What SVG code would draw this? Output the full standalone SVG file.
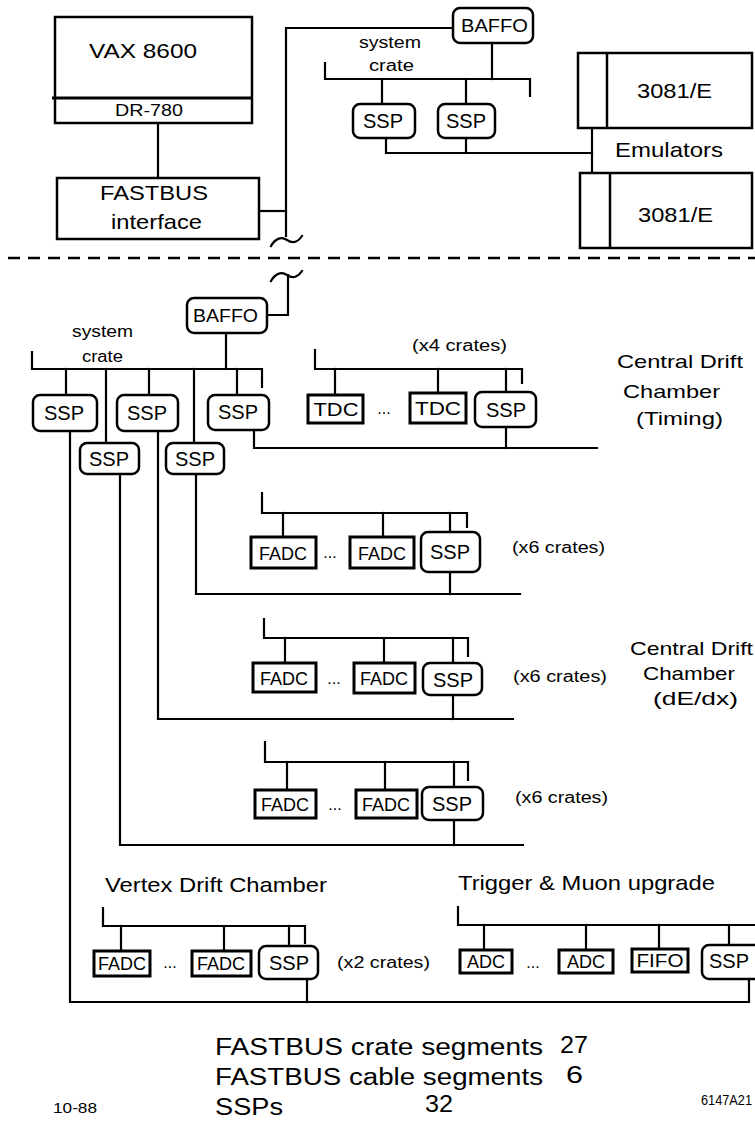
<svg xmlns="http://www.w3.org/2000/svg" width="755" height="1122" viewBox="0 0 755 1122">
<style>
text{font-family:"Liberation Sans",Arial,Helvetica,sans-serif;fill:#000}
.ln{fill:none;stroke:#000;stroke-width:2.2;stroke-linejoin:miter;stroke-linecap:square}
.box{fill:#fff;stroke:#000;stroke-width:2.5}
.rb{fill:#fff;stroke:#000;stroke-width:2.5}
.mod{fill:#fff;stroke:#000;stroke-width:3}
.big{font-size:21px}
.mid{font-size:19px}
.lbl{font-size:18px;text-anchor:middle}
.ssp{font-size:20px;text-anchor:middle}
.sm{font-size:16px}
.dots{font-size:16px;text-anchor:middle}
</style>
<rect x="0" y="0" width="755" height="1122" fill="#fff"/>

<g id="separator">
<line x1="8" y1="258" x2="755" y2="258" stroke="#000" stroke-width="2.5" stroke-dasharray="12 8"/>
</g>

<g id="connectors">
<!-- top section -->
<line class="ln" x1="158" y1="123" x2="158" y2="178"/>
<path class="ln" d="M259,211 H286"/>
<path class="ln" d="M286,236 V28 H453"/>
<path class="ln" d="M271,246 C275,239 281,236 287,240 C293,244 298,242 302,236" stroke-width="3"/>
<line class="ln" x1="492" y1="43" x2="492" y2="79"/>
<path class="ln" d="M325,63 V79 H530 V96"/>
<line class="ln" x1="382" y1="79" x2="382" y2="104"/>
<line class="ln" x1="466" y1="79" x2="466" y2="104"/>
<path class="ln" d="M386,138 V153 H592"/>
<line class="ln" x1="466" y1="138" x2="466" y2="153"/>
<line class="ln" x1="592" y1="128" x2="592" y2="173"/>
<!-- lower section -->
<path class="ln" d="M271,281 C275,274 281,271 287,275 C293,279 298,277 302,271" stroke-width="3"/>
<path class="ln" d="M288,275 V315 H267"/>
<line class="ln" x1="226" y1="333" x2="226" y2="369"/>
<path class="ln" d="M32,352 V369 H262 V387"/>
<line class="ln" x1="66" y1="369" x2="66" y2="395"/>
<line class="ln" x1="106" y1="369" x2="106" y2="443"/>
<line class="ln" x1="149" y1="369" x2="149" y2="395"/>
<line class="ln" x1="194" y1="369" x2="194" y2="443"/>
<line class="ln" x1="237" y1="369" x2="237" y2="395"/>
<path class="ln" d="M70,431 V1002 H749 V979"/>
<path class="ln" d="M120,474 V845 H523"/>
<path class="ln" d="M158,431 V719 H513"/>
<path class="ln" d="M196,474 V594 H520"/>
<path class="ln" d="M254,430 V448 H597"/>
<!-- timing crate -->
<path class="ln" d="M315,350 V369 H522 V383"/>
<line class="ln" x1="335" y1="369" x2="335" y2="395"/>
<line class="ln" x1="438" y1="369" x2="438" y2="393"/>
<line class="ln" x1="506" y1="369" x2="506" y2="392"/>
<line class="ln" x1="506" y1="427" x2="506" y2="448"/>
<!-- FADC crate 1 -->
<path class="ln" d="M262,493 V513 H467 V527"/>
<line class="ln" x1="283" y1="513" x2="283" y2="537"/>
<line class="ln" x1="383" y1="513" x2="383" y2="537"/>
<line class="ln" x1="450" y1="513" x2="450" y2="532"/>
<line class="ln" x1="450" y1="572" x2="450" y2="594"/>
<!-- FADC crate 2 -->
<path class="ln" d="M264,619 V638 H468 V656"/>
<line class="ln" x1="285" y1="638" x2="285" y2="663"/>
<line class="ln" x1="384" y1="638" x2="384" y2="663"/>
<line class="ln" x1="453" y1="638" x2="453" y2="663"/>
<line class="ln" x1="453" y1="695" x2="453" y2="719"/>
<!-- FADC crate 3 -->
<path class="ln" d="M265,742 V762 H468 V780"/>
<line class="ln" x1="287" y1="762" x2="287" y2="790"/>
<line class="ln" x1="385" y1="762" x2="385" y2="790"/>
<line class="ln" x1="454" y1="762" x2="454" y2="787"/>
<line class="ln" x1="454" y1="820" x2="454" y2="845"/>
<!-- vertex crate -->
<path class="ln" d="M103,908 V926 H305 V943"/>
<line class="ln" x1="121" y1="926" x2="121" y2="951"/>
<line class="ln" x1="224" y1="926" x2="224" y2="951"/>
<line class="ln" x1="289" y1="926" x2="289" y2="946"/>
<line class="ln" x1="307" y1="979" x2="307" y2="1002"/>
<!-- trigger crate -->
<path class="ln" d="M458,907 V925 H757"/>
<line class="ln" x1="484" y1="925" x2="484" y2="950"/>
<line class="ln" x1="586" y1="925" x2="586" y2="950"/>
<line class="ln" x1="659" y1="925" x2="659" y2="949"/>
<line class="ln" x1="729" y1="925" x2="729" y2="945"/>
</g>

<!-- top section nodes -->
<g id="vax">
<rect class="box" x="55" y="17" width="197" height="106"/>
<line x1="52" y1="98" x2="252" y2="98" stroke="#000" stroke-width="3"/>
<text class="big" x="89" y="58" textLength="108" lengthAdjust="spacingAndGlyphs">VAX 8600</text>
<text x="115" y="116" font-size="17" textLength="68" lengthAdjust="spacingAndGlyphs">DR-780</text>
</g>
<g id="fastbus-interface">
<rect class="box" x="57" y="178" width="202" height="61"/>
<text class="big" x="100" y="200" textLength="108" lengthAdjust="spacingAndGlyphs">FASTBUS</text>
<text class="big" x="111" y="229" textLength="91" lengthAdjust="spacingAndGlyphs">interface</text>
</g>
<g id="baffo-top">
<rect class="rb" x="453" y="8" width="80" height="35" rx="7"/>
<text x="461" y="32" font-size="18" textLength="67" lengthAdjust="spacingAndGlyphs">BAFFO</text>
</g>
<g id="system-crate-top">
<text class="sm" x="359" y="48" textLength="62" lengthAdjust="spacingAndGlyphs">system</text>
<text class="sm" x="369" y="71" textLength="45" lengthAdjust="spacingAndGlyphs">crate</text>
</g>
<g id="ssp-top-1">
<rect class="rb" x="353" y="104" width="62" height="34" rx="7"/>
<text class="ssp" x="383" y="128">SSP</text>
</g>
<g id="ssp-top-2">
<rect class="rb" x="438" y="104" width="57" height="34" rx="7"/>
<text class="ssp" x="466" y="128">SSP</text>
</g>
<g id="emulator-1">
<rect class="box" x="578" y="53" width="174" height="75"/>
<line x1="607" y1="53" x2="607" y2="128" stroke="#000" stroke-width="2.5"/>
<text class="big" x="637" y="98" textLength="75" lengthAdjust="spacingAndGlyphs">3081/E</text>
</g>
<g id="emulators-label">
<text class="big" x="615" y="157" textLength="108" lengthAdjust="spacingAndGlyphs">Emulators</text>
</g>
<g id="emulator-2">
<rect class="box" x="580" y="173" width="172" height="75"/>
<line x1="610" y1="173" x2="610" y2="248" stroke="#000" stroke-width="2.5"/>
<text class="big" x="638" y="222" textLength="75" lengthAdjust="spacingAndGlyphs">3081/E</text>
</g>

<!-- lower system crate -->
<g id="baffo-low">
<rect class="rb" x="187" y="298" width="80" height="35" rx="7"/>
<text x="193" y="322" font-size="18" textLength="65" lengthAdjust="spacingAndGlyphs">BAFFO</text>
</g>
<g id="system-crate-low">
<text class="sm" x="72" y="337" textLength="61" lengthAdjust="spacingAndGlyphs">system</text>
<text class="sm" x="82" y="362" textLength="41" lengthAdjust="spacingAndGlyphs">crate</text>
</g>
<g id="ssp-a"><rect class="rb" x="33" y="395" width="64" height="36" rx="7"/><text class="ssp" x="64" y="420">SSP</text></g>
<g id="ssp-b"><rect class="rb" x="80" y="443" width="59" height="31" rx="7"/><text class="ssp" x="109" y="466">SSP</text></g>
<g id="ssp-c"><rect class="rb" x="117" y="395" width="61" height="36" rx="7"/><text class="ssp" x="147" y="420">SSP</text></g>
<g id="ssp-d"><rect class="rb" x="166" y="443" width="58" height="31" rx="7"/><text class="ssp" x="195" y="466">SSP</text></g>
<g id="ssp-e"><rect class="rb" x="208" y="395" width="61" height="35" rx="7"/><text class="ssp" x="238" y="419">SSP</text></g>

<!-- timing crate -->
<g id="timing-crate">
<text class="sm" x="412" y="351" textLength="95" lengthAdjust="spacingAndGlyphs">(x4 crates)</text>
<rect class="mod" x="308" y="395" width="55" height="28"/>
<text class="lbl" x="336" y="416" font-size="20" textLength="45" lengthAdjust="spacingAndGlyphs">TDC</text>
<text class="dots" x="384" y="414">...</text>
<rect class="mod" x="410" y="393" width="56" height="30"/>
<text class="lbl" x="438" y="415" font-size="20" textLength="46" lengthAdjust="spacingAndGlyphs">TDC</text>
<rect class="rb" x="475" y="392" width="61" height="35" rx="7"/>
<text class="ssp" x="506" y="417">SSP</text>
</g>
<g id="label-cdc-timing">
<text class="mid" x="617" y="368" textLength="126" lengthAdjust="spacingAndGlyphs">Central Drift</text>
<text class="mid" x="623" y="398" textLength="97" lengthAdjust="spacingAndGlyphs">Chamber</text>
<text class="mid" x="636" y="425" textLength="87" lengthAdjust="spacingAndGlyphs">(Timing)</text>
</g>

<g id="fadc-crate-1">
<rect class="mod" x="251" y="537" width="65" height="31"/>
<text class="lbl" x="283" y="560">FADC</text>
<text class="dots" x="330" y="558">...</text>
<rect class="mod" x="350" y="537" width="64" height="31"/>
<text class="lbl" x="382" y="560">FADC</text>
<rect class="rb" x="421" y="532" width="59" height="40" rx="7"/>
<text class="ssp" x="450" y="559">SSP</text>
<text class="sm" x="512" y="553" textLength="93" lengthAdjust="spacingAndGlyphs">(x6 crates)</text>
</g>
<g id="fadc-crate-2">
<rect class="mod" x="253" y="663" width="63" height="29"/>
<text class="lbl" x="284" y="685">FADC</text>
<text class="dots" x="334" y="684">...</text>
<rect class="mod" x="354" y="663" width="61" height="30"/>
<text class="lbl" x="384" y="685">FADC</text>
<rect class="rb" x="423" y="663" width="59" height="32" rx="7"/>
<text class="ssp" x="453" y="687">SSP</text>
<text class="sm" x="513" y="682" textLength="94" lengthAdjust="spacingAndGlyphs">(x6 crates)</text>
</g>
<g id="label-cdc-dedx">
<text class="mid" x="630" y="655" textLength="123" lengthAdjust="spacingAndGlyphs">Central Drift</text>
<text class="mid" x="643" y="680" textLength="92" lengthAdjust="spacingAndGlyphs">Chamber</text>
<text class="mid" x="653" y="705" textLength="85" lengthAdjust="spacingAndGlyphs">(dE/dx)</text>
</g>
<g id="fadc-crate-3">
<rect class="mod" x="255" y="790" width="61" height="28"/>
<text class="lbl" x="285" y="811">FADC</text>
<text class="dots" x="335" y="810">...</text>
<rect class="mod" x="356" y="790" width="61" height="28"/>
<text class="lbl" x="386" y="811">FADC</text>
<rect class="rb" x="422" y="787" width="61" height="33" rx="7"/>
<text class="ssp" x="452" y="811">SSP</text>
<text class="sm" x="515" y="803" textLength="93" lengthAdjust="spacingAndGlyphs">(x6 crates)</text>
</g>

<g id="vertex-crate">
<text class="big" x="105" y="892" textLength="222" lengthAdjust="spacingAndGlyphs">Vertex Drift Chamber</text>
<rect class="mod" x="94" y="951" width="56" height="25"/>
<text class="lbl" x="122" y="970">FADC</text>
<text class="dots" x="170" y="968">...</text>
<rect class="mod" x="192" y="951" width="59" height="25"/>
<text class="lbl" x="221" y="970">FADC</text>
<rect class="rb" x="259" y="946" width="59" height="33" rx="7"/>
<text class="ssp" x="289" y="970">SSP</text>
<text class="sm" x="337" y="968" textLength="93" lengthAdjust="spacingAndGlyphs">(x2 crates)</text>
</g>
<g id="trigger-crate">
<text class="big" x="458" y="890" textLength="257" lengthAdjust="spacingAndGlyphs">Trigger &amp; Muon upgrade</text>
<rect class="mod" x="460" y="950" width="52" height="23"/>
<text class="lbl" x="486" y="968" font-size="19">ADC</text>
<text class="dots" x="533" y="968">...</text>
<rect class="mod" x="559" y="950" width="54" height="23"/>
<text class="lbl" x="586" y="968" font-size="19">ADC</text>
<rect class="mod" x="632" y="949" width="56" height="23"/>
<text class="lbl" x="660" y="967" font-size="19" textLength="47" lengthAdjust="spacingAndGlyphs">FIFO</text>
<rect class="rb" x="702" y="945" width="62" height="34" rx="7"/>
<text class="ssp" x="729" y="968">SSP</text>
</g>

<g id="summary">
<text x="215" y="1055" font-size="23" textLength="328" lengthAdjust="spacingAndGlyphs">FASTBUS crate segments</text>
<text x="560" y="1053" font-size="23" textLength="28" lengthAdjust="spacingAndGlyphs">27</text>
<text x="215" y="1085" font-size="23" textLength="328" lengthAdjust="spacingAndGlyphs">FASTBUS cable segments</text>
<text x="566" y="1083" font-size="23" textLength="17" lengthAdjust="spacingAndGlyphs">6</text>
<text x="215" y="1115" font-size="23" textLength="68" lengthAdjust="spacingAndGlyphs">SSPs</text>
<text x="425" y="1112" font-size="23" textLength="28" lengthAdjust="spacingAndGlyphs">32</text>
</g>
<g id="footer">
<text x="53" y="1113" font-size="14" textLength="44" lengthAdjust="spacingAndGlyphs">10-88</text>
<text x="701" y="1105" font-size="14" textLength="51" lengthAdjust="spacingAndGlyphs">6147A21</text>
</g>
</svg>
